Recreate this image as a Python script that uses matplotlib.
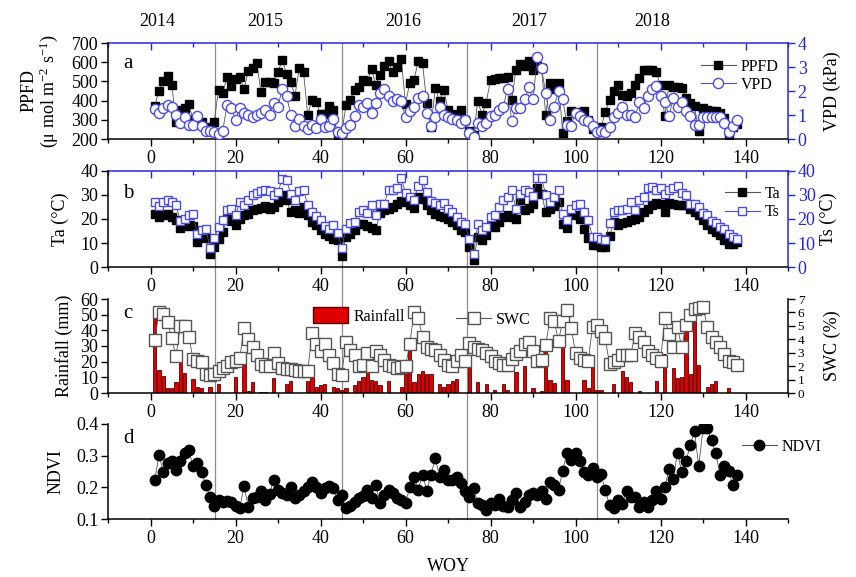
import matplotlib
matplotlib.use("Agg")
import matplotlib.pyplot as plt
import matplotlib.transforms as mtransforms
import numpy as np
from matplotlib.lines import Line2D
from matplotlib.patches import Patch
from matplotlib.ticker import MultipleLocator

plt.rcParams['font.family'] = ['Liberation Serif', 'DejaVu Serif']
plt.rcParams['mathtext.fontset'] = 'custom'
plt.rcParams['mathtext.rm'] = 'Liberation Serif'
plt.rcParams['mathtext.it'] = 'Liberation Serif:italic'
plt.rcParams['font.size'] = 13

weeks = np.arange(1, 139)
years = ['2014', '2015', '2016', '2017', '2018']
year_centres = [1.5, 27, 59.5, 89, 118]
year_breaks = [15.1, 45, 74.4, 105]

ppfd = [374, 452, 500, 530, 483, 290, 353, 362, 384, 300,
        290, 290, 260, 240, 290, 457, 440, 523, 478, 512,
        523, 460, 552, 570, 596, 443, 495, 495, 490, 547,
        613, 540, 495, 426, 570, 547, 327, 405, 394, 330,
        332, 374, 350, 217, 230, 378, 405, 457, 470, 509,
        500, 565, 483, 535, 580, 605, 547, 573, 617, 384,
        492, 509, 605, 596, 387, 260, 465, 400, 453, 353,
        318, 330, 353, 300, 240, 220, 396, 327, 390, 509,
        512, 518, 520, 523, 405, 561, 590, 580, 605, 561,
        578, 569, 327, 492, 460, 492, 231, 292, 344, 340,
        330, 344, 300, 250, 240, 260, 340, 405, 450, 483,
        431, 422, 440, 483, 520, 557, 557, 557, 547, 480,
        318, 483, 470, 470, 465, 413, 387, 370, 240, 361,
        353, 345, 344, 335, 309, 214, 260, 280]

vpd = [1.25, 1.1, 1.3, 1.4, 1.35, 1.0, 0.65, 0.9, 0.6, 0.6,
       0.95, 0.55, 0.35, 0.35, 0.3, 0.2, 0.35, 1.4, 1.3, 0.8,
       1.3, 1.1, 1.0, 0.9, 1.0, 1.1, 1.2, 1.0, 1.5, 1.35,
       2.1, 1.8, 1.0, 0.55, 0.85, 0.55, 0.4, 0.6, 0.45, 0.85,
       0.5, 0.55, 0.85, 0.3, 0.25, 0.45, 0.6, 0.95, 1.4, 1.35,
       1.5, 1.1, 1.5, 1.9, 2.1, 1.8, 1.6, 1.65, 1.6, 0.9,
       1.15, 1.35, 1.7, 1.78, 1.1, 0.55, 0.9, 1.35, 1.0, 0.9,
       0.85, 0.8, 0.65, 0.8, 0.25, 0.1, 0.65, 0.55, 0.65, 0.95,
       1.0, 1.2, 1.35, 2.1, 0.75, 1.3, 1.3, 1.65, 2.15, 1.65,
       3.4, 2.95, 1.9, 0.8, 1.35, 2.0, 1.65, 0.6, 0.55, 1.1,
       0.95, 0.8, 0.75, 0.55, 0.3, 0.35, 0.3, 0.5, 0.9, 1.1,
       1.35, 1.0, 1.0, 0.9, 1.55, 1.3, 1.8, 2.1, 2.2, 1.8,
       1.55, 0.95, 1.7, 1.35, 1.55, 1.15, 0.95, 0.6, 0.6, 0.9,
       0.9, 0.9, 0.9, 0.9, 0.65, 0.3, 0.55, 0.8]

ta = [22, 21, 21.5, 22, 21, 19.5, 16.4, 17, 17.4, 17,
      10.4, 12.5, 12, 5.3, 8.3, 11.8, 14.6, 20, 19, 17.4,
      20, 21.5, 22.2, 23.6, 24.3, 24.7, 25.3, 24.3, 25, 27,
      29.9, 27.8, 22.9, 23.6, 22.5, 25, 21.5, 18.8, 17.4, 15.3,
      13.9, 12.8, 11.8, 11.1, 4.4, 12.5, 13.9, 15.3, 18, 17.8,
      17, 16.4, 15.3, 22.5, 23.6, 24.3, 25, 26.4, 27.5, 27,
      25.7, 24.7, 29, 28.5, 25.7, 23.9, 22.2, 21.1, 20.8, 20.1,
      18.8, 17.4, 15.3, 14.6, 8.3, 2.8, 12.5, 11.4, 13.2, 17,
      16.7, 18.8, 20.8, 21.5, 21, 20.1, 27.8, 23.9, 24.7, 26.4,
      33, 30.5, 22.9, 24.3, 25.5, 27, 18, 16.4, 22.2, 21.5,
      20.1, 16, 12, 9, 9, 8.3, 8.3, 12.8, 18.8, 17.4,
      18.3, 18.8, 19.4, 20, 20.8, 22.9, 24.3, 25.7, 26.7, 26.4,
      22.9, 26.7, 26.4, 25.7, 25.7, 25.7, 24.3, 22.9, 21.5, 19.4,
      17.4, 16, 14.6, 13.2, 11.1, 9.7, 9.7, 10.4]

ts = [27, 25.3, 27, 27.8, 27, 25.7, 19.2, 20, 21.5, 22.2,
      13.6, 15.6, 16, 8.1, 12.2, 16.7, 19.4, 23.9, 24.3, 21.5,
      27, 25.7, 27.8, 30, 30.8, 31.7, 32.2, 31.7, 30, 31.3,
      36.8, 36.1, 30.6, 28, 31.7, 32.2, 25.7, 22.9, 21.1, 19.4,
      17, 16, 17.4, 14.2, 8.1, 16, 18.3, 18.8, 22.9, 23.9,
      22.5, 25.7, 21.5, 26.1, 26.4, 31.9, 32.2, 33, 37.2, 30.8,
      29, 28, 33.6, 36.4, 31.3, 27.5, 26.7, 25.7, 26.7, 24.3,
      22.9, 20.8, 18.8, 18, 11.8, 5.3, 17.8, 15.3, 16.7, 20.8,
      21.5, 25, 27.8, 29, 31.9, 24.3, 30.5, 31.9, 31.3, 29.4,
      37.2, 37.2, 29.9, 27, 29.2, 32.2, 21.9, 19.4, 24.3, 25.7,
      26.1, 22.9, 19.4, 12.5, 12.5, 11.8, 11.4, 18.3, 22.9, 23.6,
      23.6, 24, 27, 23.6, 27.8, 29.2, 33, 33.3, 31.9, 33,
      30.5, 31.9, 33, 33.6, 31, 29.9, 26.1, 26.1, 25, 22.5,
      21.5, 19.2, 18.3, 16.7, 16, 13.9, 12.5, 11.8]

rain = [52, 15, 11, 3, 3.5, 7, 20, 13, 0, 9,
        4, 3, 0, 4, 0, 6, 0, 0, 0, 10,
        0, 24, 1.5, 7, 0, 0.5, 0.5, 0, 9.5, 0,
        0, 5.5, 7.5, 0, 0, 0, 7.5, 15, 4, 5,
        6, 0, 4, 3, 2, 3, 0, 5, 7.5, 10.5,
        15, 8, 7.5, 5, 0, 7.5, 0, 0, 4, 20,
        34, 7, 12, 14, 12, 12, 0, 5.5, 4, 5.5,
        7.5, 9, 0, 0, 17.5, 0, 7, 0, 5.5, 0,
        2, 0, 5.5, 2, 0, 13.5, 0, 17.5, 0, 3,
        0, 1.5, 34, 8.5, 6.5, 0, 33, 8.5, 0, 0,
        0, 8, 3.5, 19, 2, 2, 0, 0, 5.5, 0,
        14, 10, 7, 0, 1, 0, 0, 0, 7.5, 0,
        25, 0, 16, 9.5, 10, 40, 12, 47, 18, 0,
        4, 5.5, 7.5, 0, 0, 3.5, 0, 0]

swc = [3.96, 6.0, 5.86, 5.32, 4.08, 2.72, 5.0, 5.0, 4.2, 2.55,
       2.4, 2.3, 1.4, 1.36, 1.4, 1.66, 1.86, 1.98, 2.3, 2.4,
       2.6, 4.82, 4.03, 3.46, 2.8, 2.15, 1.98, 2.0, 2.97, 2.23,
       1.86, 1.8, 1.8, 1.73, 1.66, 1.66, 1.66, 4.45, 3.64, 3.14,
       3.64, 2.85, 2.23, 1.4, 1.36, 3.83, 3.2, 2.85, 1.98, 2.05,
       2.97, 1.98, 3.14, 2.85, 2.47, 2.1, 1.98, 1.86, 1.9, 1.98,
       3.64, 6.0, 5.56, 4.2, 3.46, 3.3, 3.2, 2.85, 2.47, 2.1,
       1.98, 2.4, 2.85, 2.4, 3.7, 3.46, 3.3, 3.2, 2.97, 2.72,
       2.4, 2.23, 2.1, 2.05, 2.5, 2.9, 3.14, 3.64, 3.83, 3.14,
       2.35, 2.47, 3.6, 5.56, 5.37, 3.88, 5.37, 6.19, 4.82, 2.97,
       2.6, 2.47, 2.4, 4.95, 5.07, 4.58, 4.08, 2.15, 2.3, 2.47,
       2.8, 2.8, 2.8, 4.45, 4.2, 3.83, 3.14, 2.85, 2.6, 2.4,
       5.56, 4.4, 3.4, 4.88, 3.4, 5.1, 5.8, 6.26, 6.35, 6.43,
       4.95, 4.2, 3.83, 3.4, 2.9, 2.4, 2.3, 2.1]

ndvi = [0.224, 0.303, 0.25, 0.276, 0.282, 0.255, 0.282, 0.308, 0.319, 0.266,
        0.278, 0.25, 0.208, 0.171, 0.141, 0.16, 0.155, 0.158, 0.155, 0.141,
        0.134, 0.205, 0.139, 0.166, 0.171, 0.187, 0.16, 0.18, 0.224, 0.192,
        0.181, 0.176, 0.202, 0.166, 0.176, 0.187, 0.202, 0.218, 0.2, 0.181,
        0.197, 0.205, 0.197, 0.16, 0.176, 0.134, 0.141, 0.155, 0.166, 0.173,
        0.192, 0.166, 0.208, 0.15, 0.176, 0.192, 0.181, 0.166, 0.16, 0.15,
        0.2, 0.234, 0.192, 0.24, 0.19, 0.24, 0.292, 0.234, 0.255, 0.224,
        0.224, 0.232, 0.213, 0.187, 0.171, 0.197, 0.15, 0.144, 0.128, 0.152,
        0.144, 0.162, 0.141, 0.139, 0.16, 0.183, 0.139, 0.155, 0.176, 0.181,
        0.176, 0.19, 0.162, 0.218, 0.208, 0.192, 0.253, 0.31, 0.285, 0.31,
        0.282, 0.25, 0.24, 0.26, 0.234, 0.243, 0.192, 0.144, 0.134, 0.16,
        0.147, 0.187, 0.171, 0.171, 0.137, 0.155, 0.139, 0.16, 0.19, 0.162,
        0.2, 0.257, 0.226, 0.31, 0.247, 0.282, 0.334, 0.377, 0.266, 0.387,
        0.387, 0.348, 0.308, 0.24, 0.266, 0.253, 0.208, 0.24]

blue = '#2626dc'
circ_blue = '#4b4be6'
line_col = '#555555'

fig = plt.figure(figsize=(8.56, 5.77), dpi=100)
L, W = 108 / 856, 680 / 856
ax_a = fig.add_axes([L, 1 - 139 / 577, W, 96 / 577])
ax_b = fig.add_axes([L, 1 - 267 / 577, W, 96 / 577])
ax_c = fig.add_axes([L, 1 - 393 / 577, W, 94 / 577])
ax_d = fig.add_axes([L, 1 - 519 / 577, W, 95 / 577])


def base_x(ax):
    ax.set_xlim(-10, 150)
    ax.xaxis.set_minor_locator(MultipleLocator(10))
    ax.set_xticks(range(0, 141, 20))
    ax.tick_params(axis='x', which='major', direction='out', length=5, width=1, labelsize=13, pad=3)
    ax.tick_params(axis='x', which='minor', direction='out', length=3, width=1)
    ax.tick_params(axis='y', which='major', direction='out', length=5, width=1, labelsize=13, pad=2)
    ax.patch.set_visible(False)
    for s in ax.spines.values():
        s.set_linewidth(1.1)
    ax.spines['top'].set_visible(False)
    ax.spines['right'].set_visible(False)


def blue_top(ax):
    sec = ax.secondary_xaxis('top')
    sec.xaxis.set_major_locator(MultipleLocator(20))
    sec.xaxis.set_minor_locator(MultipleLocator(10))
    sec.tick_params(axis='x', which='major', direction='in', length=5, width=1, colors=blue, labeltop=False)
    sec.tick_params(axis='x', which='minor', direction='in', length=3, width=1, colors=blue)
    sec.spines['top'].set_color(blue)
    sec.spines['top'].set_linewidth(1.1)


def right_axis(ax, color, size=13):
    tw = ax.twinx()
    for k in ['top', 'left', 'bottom']:
        tw.spines[k].set_visible(False)
    tw.spines['right'].set_color(color)
    tw.spines['right'].set_linewidth(1.1)
    tw.tick_params(axis='y', direction='out', length=5, width=1, colors=color, labelsize=size, pad=2)
    tw.patch.set_visible(False)
    return tw


# panel a
base_x(ax_a)
blue_top(ax_a)
ax_a.plot(weeks, ppfd, color=line_col, lw=0.6, marker='s', ms=6.3, mfc='black', mec='black')
ax_a.set_ylim(200, 700)
ax_a.set_yticks(range(200, 701, 100))
ax_a.set_ylabel('PPFD\n(μ mol m$^{-2}$ s$^{-1}$)', fontsize=13, labelpad=8, linespacing=1.05)
ax_a2 = right_axis(ax_a, blue)
ax_a2.plot(weeks, vpd, color=line_col, lw=0.6, marker='o', ms=7.3, mfc='white', mec=circ_blue, mew=1.0)
ax_a2.set_ylim(0, 4)
ax_a2.set_yticks(range(0, 5))
ax_a2.set_ylabel('VPD (kPa)', fontsize=13, labelpad=12)
ax_a.text(0.022, 0.74, 'a', transform=ax_a.transAxes, fontsize=15)
ax_a2.legend(handles=[Line2D([], [], color=line_col, lw=0.8, marker='s', ms=6.3, mfc='black', mec='black'),
                      Line2D([], [], color=circ_blue, lw=0.8, marker='o', ms=7.3, mfc='white', mec=circ_blue)],
             labels=['PPFD', 'VPD'], loc='upper left', bbox_to_anchor=(0.86, 0.92), frameon=False,
             fontsize=11.5, handlelength=2.2, handletextpad=0.3, labelspacing=0.15, borderpad=0)

# panel b
base_x(ax_b)
blue_top(ax_b)
ax_b.plot(weeks, ta, color=line_col, lw=0.6, marker='s', ms=5.8, mfc='black', mec='black')
ax_b.set_ylim(0, 40)
ax_b.set_yticks(range(0, 41, 10))
ax_b.set_ylabel('Ta (°C)', fontsize=13, labelpad=8)
ax_b2 = right_axis(ax_b, blue)
ax_b2.plot(weeks, ts, color=line_col, lw=0.6, marker='s', ms=6.3, mfc='white', mec=circ_blue, mew=1.0)
ax_b2.set_ylim(0, 40)
ax_b2.set_yticks(range(0, 41, 10))
ax_b2.set_ylabel('Ts (°C)', fontsize=13, labelpad=3)
ax_b.text(0.022, 0.72, 'b', transform=ax_b.transAxes, fontsize=15)
ax_b2.legend(handles=[Line2D([], [], color=line_col, lw=0.8, marker='s', ms=5.8, mfc='black', mec='black'),
                      Line2D([], [], color=circ_blue, lw=0.8, marker='s', ms=6.3, mfc='white', mec=circ_blue)],
             labels=['Ta', 'Ts'], loc='upper left', bbox_to_anchor=(0.895, 0.93), frameon=False,
             fontsize=11.5, handlelength=2.2, handletextpad=0.3, labelspacing=0.15, borderpad=0)

# panel c
base_x(ax_c)
ax_c.bar(weeks, rain, width=0.8, color='#e00000', edgecolor='#5a0000', linewidth=0.6)
ax_c.set_ylim(0, 60)
ax_c.set_yticks(range(0, 61, 10))
ax_c.set_ylabel('Rainfall (mm)', fontsize=13, labelpad=5)
ax_c2 = right_axis(ax_c, 'black', size=9.5)
ax_c2.plot(weeks, swc, color=line_col, lw=0.6, marker='s', ms=8, mfc='white', mec='#555555', mew=1.0)
ax_c2.set_ylim(0, 7)
ax_c2.set_yticks(range(0, 8))
ax_c2.set_ylabel('SWC (%)', fontsize=13, labelpad=14)
ax_c.text(0.022, 0.8, 'c', transform=ax_c.transAxes, fontsize=15)
ax_c.legend(handles=[Patch(facecolor='#e00000', edgecolor='#5a0000')], labels=['Rainfall'],
            loc='upper left', bbox_to_anchor=(0.29, 1.0), frameon=False, fontsize=11.5,
            handlelength=2.2, handleheight=1.2, handletextpad=0.3, borderpad=0)
ax_c2.legend(handles=[Line2D([], [], color=line_col, lw=0.8, marker='s', ms=8, mfc='white', mec='#555555')],
             labels=['SWC'], loc='upper left', bbox_to_anchor=(0.5, 0.95), frameon=False, fontsize=11.5,
             handlelength=2.2, handletextpad=0.3, borderpad=0)

# panel d
base_x(ax_d)
ax_d.plot(weeks, ndvi, color=line_col, lw=0.6, marker='o', ms=7.5, mfc='black', mec='black')
ax_d.set_ylim(0.1, 0.4)
ax_d.set_yticks([0.1, 0.2, 0.3, 0.4])
ax_d.set_ylabel('NDVI', fontsize=13, labelpad=8)
ax_d.set_xlabel('WOY', fontsize=13, labelpad=8)
ax_d.text(0.022, 0.8, 'd', transform=ax_d.transAxes, fontsize=15)
ax_d.legend(handles=[Line2D([], [], color=line_col, lw=0.8, marker='o', ms=7.5, mfc='black', mec='black')],
            labels=['NDVI'], loc='upper left', bbox_to_anchor=(0.92, 0.93), frameon=False, fontsize=11.5,
            handlelength=2.2, handletextpad=0.3, borderpad=0)

# year boundaries across all panels
trans = mtransforms.blended_transform_factory(ax_d.transData, fig.transFigure)
for xb in year_breaks:
    fig.add_artist(Line2D([xb, xb], [1 - 519 / 577, 1 - 43 / 577], transform=trans,
                          color='#8c8c8c', lw=0.9, zorder=-1))

trans_top = mtransforms.blended_transform_factory(ax_a.transData, fig.transFigure)
for yr, xc in zip(years, year_centres):
    fig.text(xc, 1 - 22 / 577, yr, transform=trans_top, ha='center', va='center', fontsize=13)

fig.savefig('out.png', dpi=100)
